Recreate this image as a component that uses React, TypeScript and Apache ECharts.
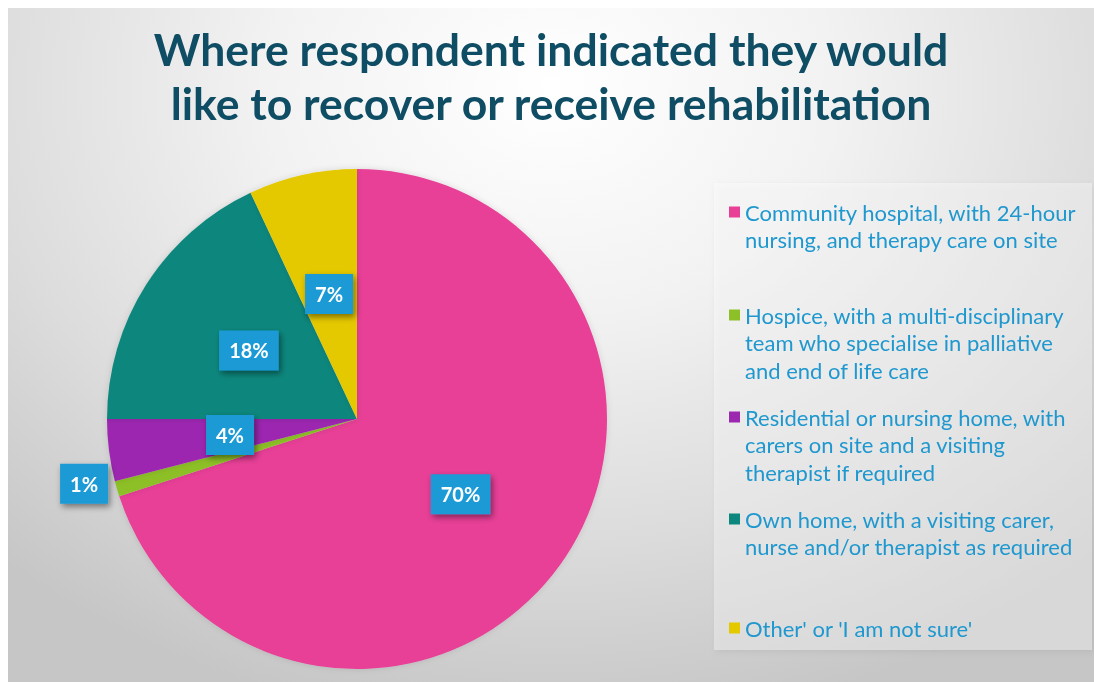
import React, { useEffect, useRef } from "react";
import * as echarts from "echarts";

const titleText = "Where respondent indicated they would\nlike to recover or receive rehabilitation";

const categories = [
  "Community hospital, with 24-hour nursing, and therapy care on site",
  "Hospice, with a multi-disciplinary team who specialise in palliative and end of life care",
  "Residential or nursing home, with carers on site and a visiting therapist if required",
  "Own home, with a visiting carer, nurse and/or therapist as required",
  "Other' or 'I am not sure'",
];

const legendLines = [
  ["Community hospital, with 24-hour", "nursing, and therapy care on site"],
  ["Hospice, with a multi-disciplinary", "team who specialise in palliative", "and end of life care"],
  ["Residential or nursing home, with", "carers on site and a visiting", "therapist if required"],
  ["Own home, with a visiting carer,", "nurse and/or therapist as required"],
  ["Other' or 'I am not sure'"],
];

const values = [70, 1, 4, 18, 7];

const colors = ["#E83F97", "#8DC026", "#9C28B0", "#0C877D", "#E4C800"];

// first-line centres of the legend entries (layout, chart coords)
const legendCenters = [204, 307, 409, 511, 620];
const LH = 27.5;
const SQ = 11;

export default function App() {
  const ref = useRef<HTMLDivElement>(null);

  useEffect(() => {
    if (!ref.current) return;
    const chart = echarts.init(ref.current, undefined, { renderer: "svg" });

    const legends = categories.map((name, i) => {
      const n = legendLines[i].length;
      const h = (n - 1) * LH + SQ;
      // square sits at the top of a taller (invisible) icon box so it lines up with the first line
      const icon = n > 1 ? `path://M0,0H${SQ}V${SQ}H0Z M0,${h}Z` : "rect";
      return {
        data: [name],
        orient: "vertical",
        left: 721,
        top: legendCenters[i] - LH / 2,
        padding: 0,
        itemWidth: SQ,
        itemHeight: h,
        itemGap: 0,
        icon,
        selectedMode: false,
        formatter: () => legendLines[i].join("\n"),
        textStyle: {
          color: "#1E98CF",
          fontFamily: "Lato",
          fontSize: 22,
          lineHeight: LH,
        },
      };
    });

    const labelBase = {
      show: true,
      position: "inside",
      formatter: (p: any) => `${p.value}%`,
      color: "#FFFFFF",
      fontFamily: "Lato",
      fontWeight: "bold",
      fontSize: 20,
      backgroundColor: "#1C9AD6",
      padding: [11, 10, 9, 10],
      shadowColor: "rgba(0,0,0,0.45)",
      shadowBlur: 6,
      shadowOffsetX: 2,
      shadowOffsetY: 3,
    };

    chart.setOption({
      animation: false,
      backgroundColor: "transparent",
      color: colors,
      title: {
        text: titleText,
        left: "center",
        top: 8,
        textStyle: {
          color: "#0F4D64",
          fontFamily: "Lato",
          fontWeight: "bold",
          fontSize: 44.5,
          lineHeight: 54,
        },
      },
      graphic: [
        {
          type: "rect",
          left: 706,
          top: 175,
          shape: { width: 378, height: 467 },
          style: {
            fill: "rgba(255,255,255,0.35)",
            shadowColor: "rgba(0,0,0,0.18)",
            shadowBlur: 6,
            shadowOffsetX: 2,
            shadowOffsetY: 2,
          },
          z: -1,
        },
      ],
      legend: legends,
      series: [
        {
          type: "pie",
          center: [349, 411],
          radius: 250,
          startAngle: 90,
          clockwise: true,
          avoidLabelOverlap: false,
          labelLine: { show: false },
          itemStyle: {
            shadowColor: "rgba(0,0,0,0.12)",
            shadowBlur: 6,
          },
          label: labelBase,
          data: categories.map((name, i) => ({
            name,
            value: values[i],
            label: i === 1 ? { ...labelBase, offset: [-150, 29] } : labelBase,
          })),
        },
      ],
    });

    return () => chart.dispose();
  }, []);

  return (
    <div
      style={{
        position: "fixed",
        left: 8,
        top: 8,
        width: 1086,
        height: 674,
        background:
          "radial-gradient(ellipse 75% 95% at 50% 12%, #ffffff 0%, #f2f2f2 35%, #dcdcdc 70%, #c6c6c6 100%)",
      }}
    >
      <div ref={ref} style={{ width: 1086, height: 674 }} />
    </div>
  );
}
